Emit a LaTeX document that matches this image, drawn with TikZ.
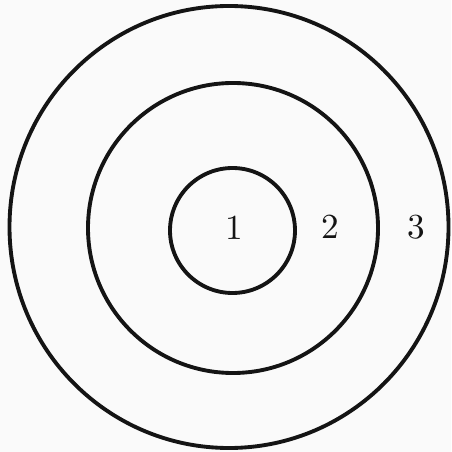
\documentclass[tikz,border=0pt]{standalone}
\usepackage{xcolor}
\usepackage{tikz}
\usetikzlibrary{positioning}
\definecolor{inkdark}{RGB}{20,20,20}
\definecolor{paper}{RGB}{250,250,250}
\tikzset{
  ring/.style={draw=inkdark, line width=1.1pt},
  zonelabel/.style={font=\fontsize{10}{12}\selectfont, text=inkdark, inner sep=0pt}
}

\begin{document}
\begin{tikzpicture}[x=0.01cm, y=-0.01cm]
  % ── page ────────────────────────────────────────────────────────────────
  \fill[paper] (0,0) rectangle (451,452);
  \useasboundingbox (0,0) rectangle (451,452);

  % ── three concentric zones ──────────────────────────────────────────────
  \draw[ring] (229,227) ellipse [x radius=219.5, y radius=221];
  \draw[ring] (233,228) circle (145);
  \draw[ring] (232.5,230.5) circle (62.5);

  % Zone numbers
  \node[zonelabel] (one)   at (234,228) {1};
  \node[zonelabel] (two)   at (330,227) {2};
  \node[zonelabel] (three) at (416,227) {3};
\end{tikzpicture}
\end{document}
